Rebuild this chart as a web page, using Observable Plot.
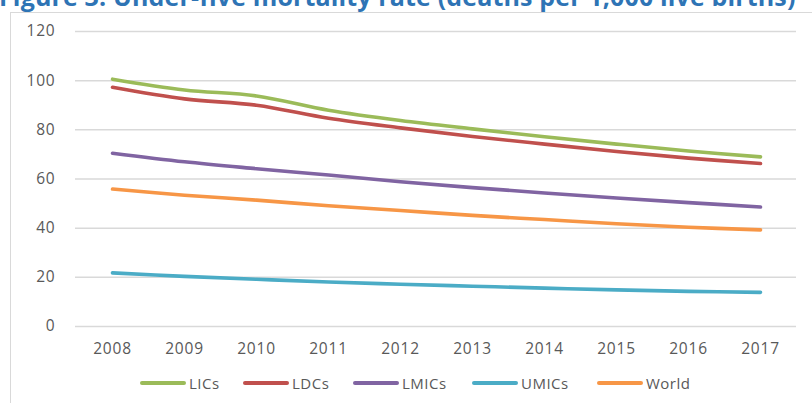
<!DOCTYPE html>
<html>
<head>
<meta charset="utf-8">
<script src="https://cdn.jsdelivr.net/npm/d3@7"></script>
<script src="https://cdn.jsdelivr.net/npm/@observablehq/plot@0.6"></script>
<style>
  html, body { margin: 0; padding: 0; background: #fff; }
  body { width: 812px; height: 403px; overflow: hidden; position: relative; font-family: "Open Sans", sans-serif; }
  #title { position: absolute; left: -1px; top: -21px; line-height: 34px; white-space: nowrap; font-family: "Open Sans", sans-serif; font-weight: 700; font-size: 25px; color: #2E74B5; letter-spacing: 0.15px; }
  #frame { position: absolute; left: 10px; top: 12px; width: 820px; height: 420px; border: 1.5px solid #d9d9d9; box-sizing: border-box; }
  #chart { position: absolute; left: 0; top: 0; }
  #legend { position: absolute; top: 373px; left: 0; width: 812px; height: 20px; font-size: 15px; color: #595959; letter-spacing: 0.5px; }
  .item { position: absolute; display: flex; align-items: center; }
  .sw { width: 46px; height: 4px; border-radius: 2px; margin-right: 3px; }
</style>
</head>
<body>
<div id="frame"></div>
<div id="title">Figure 3: Under-five mortality rate (deaths per 1,000 live births)</div>
<div id="chart"></div>
<div id="legend"></div>
<script>
const years = [2008, 2009, 2010, 2011, 2012, 2013, 2014, 2015, 2016, 2017];
const seriesNames = ["LICs", "LDCs", "LMICs", "UMICs", "World"];
const seriesColors = ["#9BBB59", "#C0504D", "#8064A2", "#4BACC6", "#F79646"];
const LICs  = [100.6, 96.2, 93.8, 88.0, 83.8, 80.4, 77.2, 74.2, 71.4, 69.0];
const LDCs  = [97.3, 92.6, 90.0, 84.7, 80.8, 77.3, 74.2, 71.2, 68.5, 66.3];
const LMICs = [70.5, 67.0, 64.2, 61.6, 58.9, 56.5, 54.3, 52.3, 50.4, 48.6];
const UMICs = [21.8, 20.4, 19.2, 18.1, 17.2, 16.4, 15.6, 14.9, 14.3, 13.9];
const World = [55.9, 53.4, 51.4, 49.1, 47.2, 45.2, 43.5, 41.8, 40.4, 39.3];
const yTicks = [0, 20, 40, 60, 80, 100, 120];

const valuesBySeries = [LICs, LDCs, LMICs, UMICs, World];
const data = [];
seriesNames.forEach((name, i) => {
  years.forEach((yr, j) => data.push({series: name, year: String(yr), value: valuesBySeries[i][j]}));
});

const chart = Plot.plot({
  width: 812,
  height: 403,
  marginLeft: 75,
  marginRight: 16,
  marginTop: 31,
  marginBottom: 77,
  style: { fontFamily: "Open Sans, sans-serif", fontSize: "15.5px", color: "#595959", background: "transparent", letterSpacing: "0.8px" },
  x: { type: "point", domain: years.map(String), padding: 0.5, label: null, tickSize: 0, tickPadding: 16 },
  y: { domain: [0, 120], ticks: yTicks, label: null, tickSize: 0, tickPadding: 20 },
  color: { domain: seriesNames, range: seriesColors },
  marks: [
    Plot.ruleY(yTicks, { stroke: "#d9d9d9", strokeWidth: 1.5 }),
    Plot.line(data, {
      x: "year", y: "value", z: "series", stroke: "series",
      strokeWidth: 3.6, curve: "catmull-rom", strokeLinecap: "round", strokeLinejoin: "round"
    })
  ]
});
document.getElementById("chart").appendChild(chart);

const legendPos = [140, 243, 353, 472, 597];
const legend = document.getElementById("legend");
seriesNames.forEach((name, i) => {
  const it = document.createElement("div");
  it.className = "item";
  it.style.left = legendPos[i] + "px";
  const sw = document.createElement("div");
  sw.className = "sw";
  sw.style.background = seriesColors[i];
  const tx = document.createElement("span");
  tx.textContent = name;
  it.appendChild(sw);
  it.appendChild(tx);
  legend.appendChild(it);
});
</script>
</body>
</html>
